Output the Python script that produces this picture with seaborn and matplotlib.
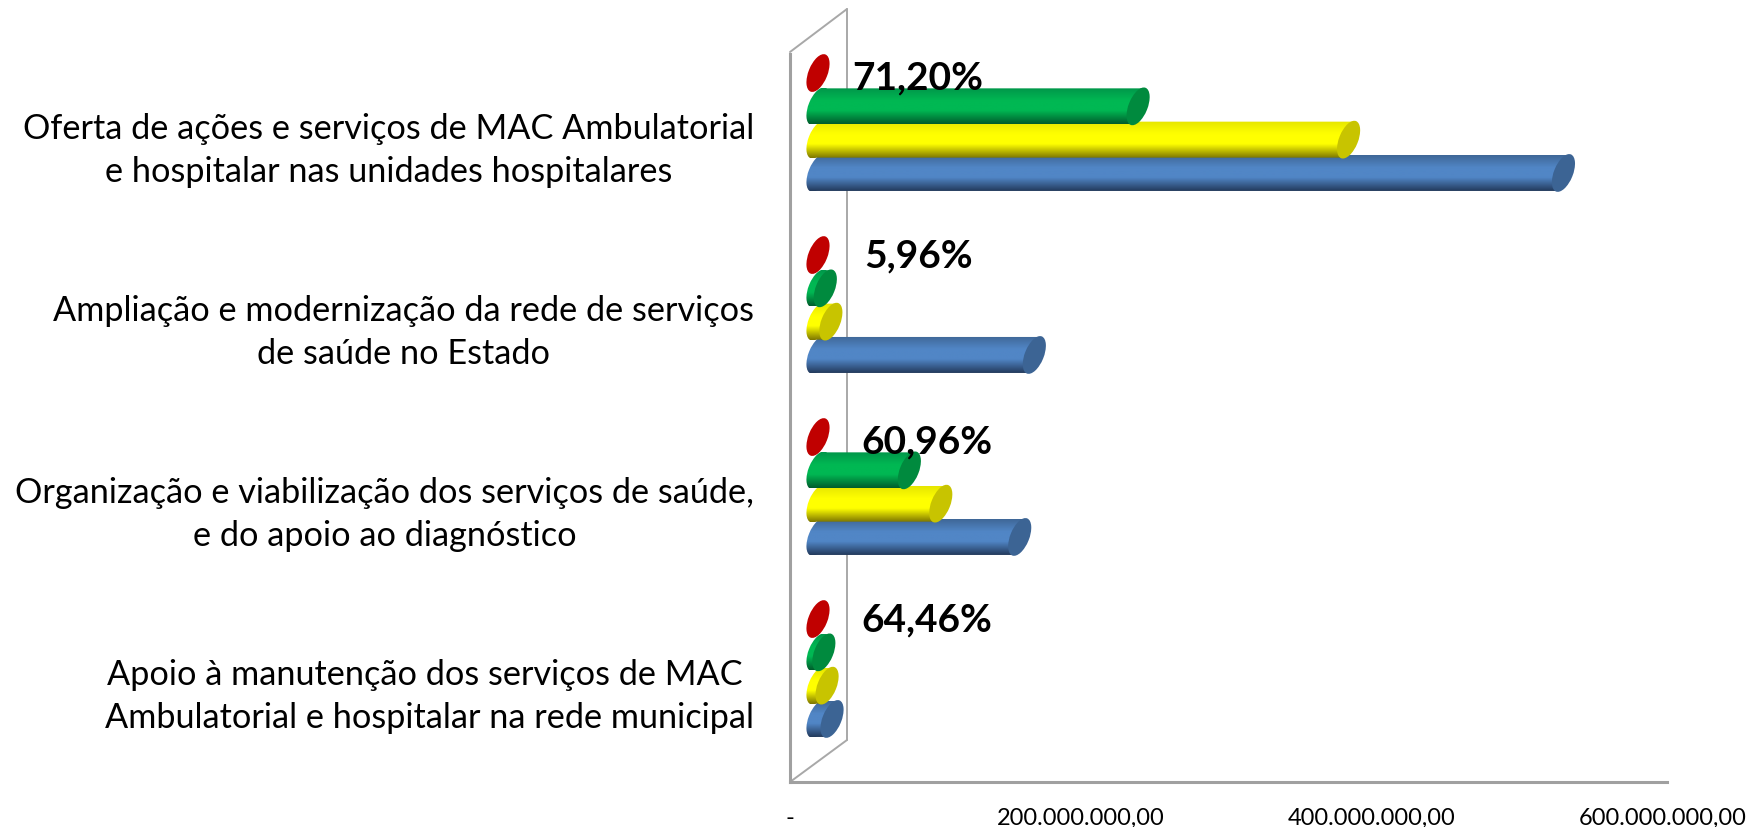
import numpy as np
import pandas as pd
import matplotlib
matplotlib.use('Agg')
import matplotlib.pyplot as plt
import seaborn as sns
from matplotlib.colors import LinearSegmentedColormap
from matplotlib.lines import Line2D
from matplotlib.patches import Ellipse, Polygon
from matplotlib.transforms import IdentityTransform

# valores
acoes = [
    'Oferta de ações e serviços de MAC Ambulatorial\ne hospitalar nas unidades hospitalares',
    'Ampliação e modernização da rede de serviços\nde saúde no Estado',
    'Organização e viabilização dos serviços de saúde,\ne do apoio ao diagnóstico',
    'Apoio à manutenção dos serviços de MAC \nAmbulatorial e hospitalar na rede municipal',
]
serie_vermelha = [0, 0, 0, 0]
serie_verde = [219e6, 5e6, 62.5e6, 4e6]
serie_amarela = [363e6, 8.8e6, 84e6, 6.2e6]
serie_azul = [510e6, 148e6, 138e6, 9.6e6]
percentuais = ['71,20%', '5,96%', '60,96%', '64,46%']
ticks_x = [0, 200e6, 400e6, 600e6]
ticks_x_txt = ['-', '200.000.000,00', '400.000.000,00', '600.000.000,00']

series = ['vermelha', 'verde', 'amarela', 'azul']
valores = [serie_vermelha, serie_verde, serie_amarela, serie_azul]

# topo, meio, base do cilindro + cor da tampa
cores = {
    'vermelha': (['#c00000', '#c00000', '#c00000'], '#c00000'),
    'verde': (['#00974a', '#00b853', '#005c2c'], '#008a3e'),
    'amarela': (['#e6e600', '#ffff00', '#7d7600'], '#c8c400'),
    'azul': (['#3f6797', '#5186c6', '#233a5c'], '#3c6494'),
}

W, H = 1752, 828
sns.set_style('white')
plt.rcParams['font.family'] = ['Lato', 'DejaVu Sans']

df = pd.DataFrame({
    'acao': np.tile(acoes, len(series)),
    'serie': np.repeat(series, len(acoes)),
    'valor': np.concatenate(valores),
})

fig = plt.figure(figsize=(W / 100, H / 100), dpi=100)


def caixa(x0, x1, y0, y1):
    return [x0 / W, 1 - y1 / H, (x1 - x0) / W, (y1 - y0) / H]


# eixo da frente: chao, rotulos
frente = fig.add_axes(caixa(790, 1667, 55, 783))
frente.set_xlim(0, 603e6)
frente.set_ylim(3.522, -0.478)
frente.patch.set_alpha(0)
frente.set_xticks(ticks_x, ticks_x_txt, fontsize=17)
frente.set_yticks(range(len(acoes)))
frente.set_yticklabels(acoes, fontsize=24.7, ma='center', linespacing=1.42)
frente.tick_params(axis='x', length=0, pad=18, colors='black')
frente.tick_params(axis='y', length=0, pad=26, colors='black')
for lado in ['top', 'right']:
    frente.spines[lado].set_visible(False)
for lado in ['left', 'bottom']:
    frente.spines[lado].set_color('#a0a0a0')
    frente.spines[lado].set_linewidth(2.2)

# parede do fundo, atras das barras
for xs, ys, lw in [([790, 847], [783, 741], 1.4), ([790, 847], [53, 10], 1.4), ([847, 847], [10, 741], 1.4)]:
    fig.add_artist(Line2D([x / W for x in xs], [1 - y / H for y in ys], color='#a8a8a8', lw=lw, zorder=-1))

# barras ficam no meio da profundidade
ax = fig.add_axes(caixa(818, 1695, 33, 761))
sns.barplot(data=df, y='acao', x='valor', hue='serie', hue_order=series, order=acoes,
            orient='y', width=0.732, gap=0, legend=False, ax=ax, saturation=1)
ax.set_xlim(0, 600e6)
ax.set_ylim(3.5, -0.5)
ax.set_autoscale_on(False)
ax.axis('off')
ax.patch.set_alpha(0)

gradiente = np.linspace(0, 1, 128)[:, None]
inv = ax.transData.inverted()
A, B, ANG, INC = 40, 19, 68, 6  # elipse das pontas, em px

for i, (nome, cont) in enumerate(zip(series, ax.containers)):
    corpo, tampa = cores[nome]
    cmap = LinearSegmentedColormap.from_list(nome, [(0, corpo[0]), (0.35, corpo[1]), (0.62, corpo[1]), (1, corpo[2])])
    z = 10 - i
    for bar in cont:
        bar.set_visible(False)
        xm = bar.get_x() + bar.get_width()
        yc = bar.get_y() + bar.get_height() / 2
        px0, py = ax.transData.transform((0, yc))
        px1, _ = ax.transData.transform((xm, yc))
        meia = 18
        e0 = inv.transform((px0 - 14, py - meia))
        e1 = inv.transform((px1 + 14, py + meia))
        ext = (e0[0], e1[0], e0[1], e1[1])
        # corpo do cilindro
        if xm > 0:
            im = ax.imshow(gradiente, cmap=cmap, aspect='auto', extent=ext, origin='upper', zorder=z, vmin=0, vmax=1)
            clip = Polygon([(px0 - INC, py - meia), (px0 + INC, py + meia), (px1 + INC, py + meia), (px1 - INC, py - meia)],
                           transform=IdentityTransform())
            im.set_clip_box(fig.bbox)
            im.set_clip_path(clip)
            im0 = ax.imshow(gradiente, cmap=cmap, aspect='auto', extent=ext, origin='upper', zorder=z, vmin=0, vmax=1)
            fundo = Ellipse((px0, py), A, B, angle=ANG, transform=IdentityTransform())
            im0.set_clip_box(fig.bbox)
            im0.set_clip_path(fundo)
        ax.add_patch(Ellipse((px1, py), A, B, angle=ANG, facecolor=tampa, edgecolor='none',
                             transform=IdentityTransform(), zorder=z + 0.5, clip_on=False))

ax.set_xlim(0, 600e6)
ax.set_ylim(3.5, -0.5)

# percentuais
pos_pct = [(918, 78), (919, 256), (927, 442), (927, 620)]
for txt, (x, y) in zip(percentuais, pos_pct):
    fig.text(x / W, 1 - y / H, txt, fontsize=28, fontweight='bold', color='black',
             ha='center', va='center', zorder=20)

plt.savefig('out.png', dpi=100)
